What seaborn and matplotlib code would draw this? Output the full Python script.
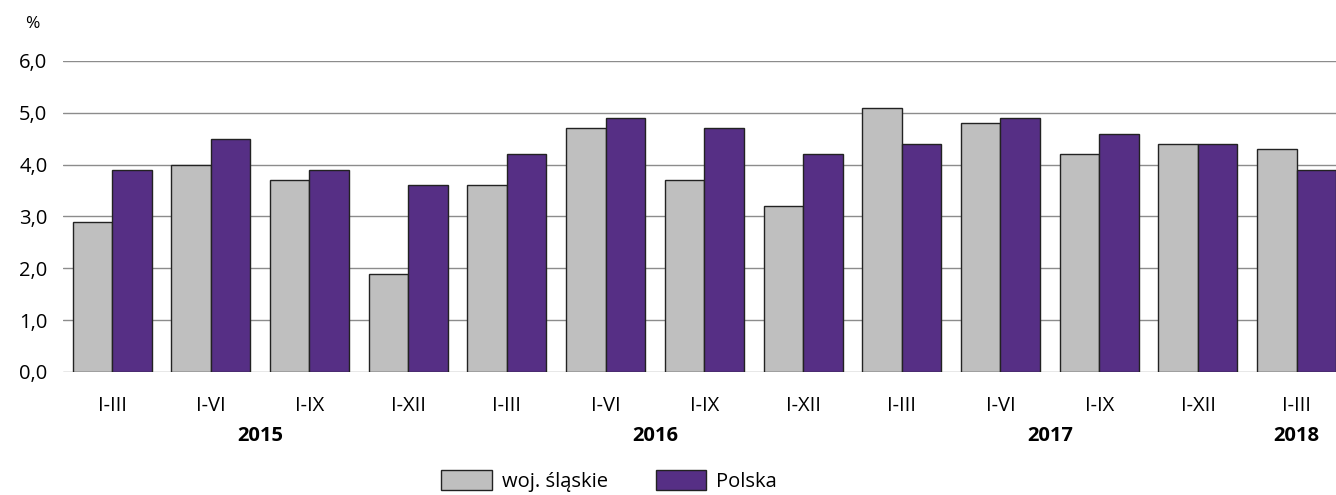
import numpy as np
import pandas as pd
import matplotlib
matplotlib.use("Agg")
import matplotlib.pyplot as plt
import matplotlib.patches as mpatches
import matplotlib.transforms as mtransforms
import seaborn as sns

# Data
periods = ["I-III", "I-VI", "I-IX", "I-XII",
           "I-III", "I-VI", "I-IX", "I-XII",
           "I-III", "I-VI", "I-IX", "I-XII",
           "I-III"]
years = [2015, 2015, 2015, 2015,
         2016, 2016, 2016, 2016,
         2017, 2017, 2017, 2017,
         2018]
slaskie = [2.9, 4.0, 3.7, 1.9, 3.6, 4.7, 3.7, 3.2, 5.1, 4.8, 4.2, 4.4, 4.3]
polska = [3.9, 4.5, 3.9, 3.6, 4.2, 4.9, 4.7, 4.2, 4.4, 4.9, 4.6, 4.4, 3.9]
series_names = ["woj. śląskie", "Polska"]
year_labels = ["2015", "2016", "2017", "2018"]

GRAY = "#bfbfbf"
PURPLE = "#562f85"
EDGE = "#222222"
GRID = "#8c8c8c"

keys = [f"{y} {p}" for y, p in zip(years, periods)]
df = pd.DataFrame({
    "key": keys * 2,
    "value": slaskie + polska,
    "series": [series_names[0]] * len(keys) + [series_names[1]] * len(keys),
})

sns.set_theme(style="white")
plt.rcParams["font.family"] = "Open Sans"
plt.rcParams["text.color"] = "black"
FS = 14.5

fig = plt.figure(figsize=(13.36, 4.95), dpi=100)
ax = fig.add_axes([0.0469, 0.2485, 0.9606, 0.6283])

sns.barplot(data=df, x="key", y="value", hue="series", order=keys,
            hue_order=series_names, palette=[GRAY, PURPLE], saturation=1,
            edgecolor=EDGE, linewidth=1.0, width=0.8, ax=ax,
            legend=False)

ax.set_ylim(0, 6)
ax.set_yticks(np.arange(0, 6.01, 1.0))
ax.set_yticklabels([f"{v:.1f}".replace(".", ",") for v in np.arange(0, 6.01, 1.0)],
                   fontsize=FS, family="Open Sans")
ax.set_xticks(range(len(keys)))
ax.set_xticklabels(periods, fontsize=FS, family="Open Sans")
ax.set_xlim(-0.5, len(keys) - 0.5)
ax.set_xlabel("")
ax.set_ylabel("")
ax.tick_params(axis="x", length=0, pad=17, colors="black")
ax.tick_params(axis="y", length=0, pad=11, colors="black")
ax.yaxis.grid(True, color=GRID, linewidth=1.0)
ax.set_axisbelow(True)
for s in ax.spines.values():
    s.set_visible(False)

# year labels under the period ticks
trans = mtransforms.blended_transform_factory(ax.transData, ax.transAxes)
yr_idx = {}
for i, y in enumerate(years):
    yr_idx.setdefault(str(y), []).append(i)
for lab in year_labels:
    idx = yr_idx[lab]
    xc = (idx[0] + idx[-1]) / 2
    ax.text(xc, -0.205, lab, transform=trans, ha="center", va="center",
            fontsize=FS, fontweight="bold", color="black", family="Open Sans")

fig.text(0.024, 0.952, "%", fontsize=12.5, ha="center", va="center",
         color="black", family="Open Sans")

handles = [mpatches.Patch(facecolor=GRAY, edgecolor=EDGE, linewidth=1.0),
           mpatches.Patch(facecolor=PURPLE, edgecolor=EDGE, linewidth=1.0)]
leg = fig.legend(handles, series_names, loc="lower center", ncol=2,
                 bbox_to_anchor=(0.456, -0.03), frameon=False,
                 prop={"family": "Open Sans", "size": FS},
                 handlelength=2.5, handleheight=1.1, columnspacing=2.4,
                 handletextpad=0.5)
for t in leg.get_texts():
    t.set_color("black")

fig.savefig("out.png", dpi=100)
